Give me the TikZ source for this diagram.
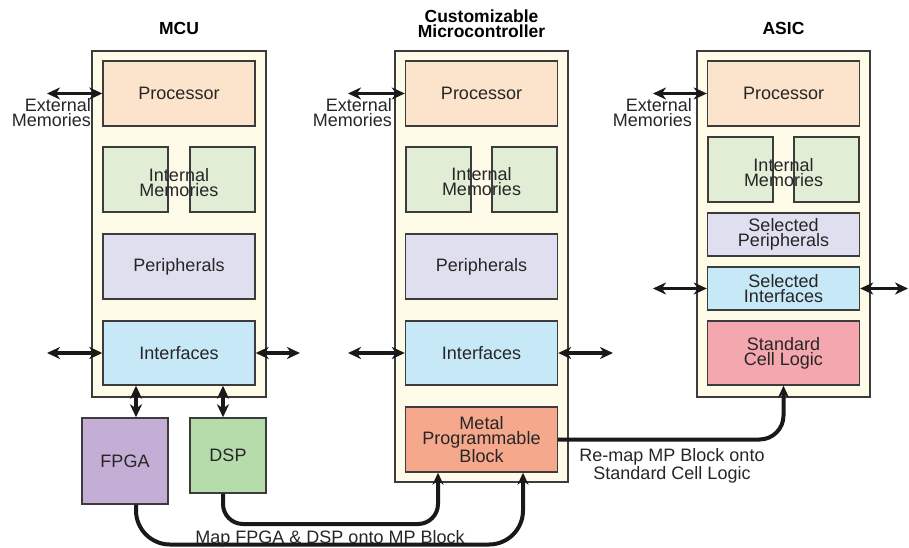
\documentclass[tikz,border=0pt]{standalone}
\usepackage{fontspec}
\setmainfont{Liberation Sans}
\usetikzlibrary{arrows.meta}

\definecolor{chipbg}{HTML}{FEFBE8}
\definecolor{edgegray}{HTML}{3C3C3C}
\definecolor{textgray}{HTML}{262626}
\definecolor{procfill}{HTML}{FCE3CB}
\definecolor{memfill}{HTML}{E2EDD6}
\definecolor{perifill}{HTML}{E0DFEF}
\definecolor{iffill}{HTML}{C6E8F7}
\definecolor{mpfill}{HTML}{F6A88D}
\definecolor{sclfill}{HTML}{F4A7AE}
\definecolor{fpgafill}{HTML}{C5AED5}
\definecolor{dspfill}{HTML}{B6DCAC}

\begin{document}
\begin{tikzpicture}[x=1pt, y=-1pt,
    font=\fontsize{18}{15}\selectfont, text=textgray,
    chip/.style={rectangle, draw=edgegray, line width=1.4pt, fill=chipbg, inner sep=0pt},
    block/.style={rectangle, draw=edgegray, line width=1.4pt, inner sep=0pt, align=center,
        minimum width=152pt, minimum height=65pt},
    memhalf/.style={block, fill=memfill, minimum width=65pt},
    lbl/.style={inner sep=0pt, align=center},
    title/.style={inner sep=0pt, align=center, anchor=north, text=black,
        font=\fontsize{17.5}{14.5}\selectfont\bfseries},
    biarrow/.style={{Stealth[length=13pt,width=12pt,inset=4pt]}-{Stealth[length=13pt,width=12pt,inset=4pt]},
        line width=3.5pt, draw=black!90},
    mapline/.style={-{Stealth[length=12pt,width=11pt,inset=4pt]}, line width=4pt, draw=black!90}]

    \useasboundingbox (0,0) rectangle (909,548);

    % the three chips
    \node (mcu) [chip, minimum width=174pt, minimum height=346pt] at (179,224) {};
    \node (cmc) [chip, minimum width=173pt, minimum height=431pt] at (481.5,266.5) {};
    \node (asic) [chip, minimum width=173pt, minimum height=346pt] at (783.5,224) {};

    \node (mcutitle) [title] at (179,22.3) {MCU};
    \node (cmctitle) [title] at (481.5,10) {Customizable\\Microcontroller};
    \node (asictitle) [title] at (783.5,21.7) {ASIC};

    % MCU
    \node (mcuproc) [block, fill=procfill] at (179,93.5) {Processor};
    \node (mcumem1) [memhalf] at (135.5,179.5) {};
    \node (mcumem2) [memhalf] at (222.5,179.5) {};
    \node (mcumemtxt) [lbl, anchor=north] at (179,168) {Internal\\Memories};
    \node (mcuperi) [block, fill=perifill] at (179,266.5) {Peripherals};
    \node (mcuif) [block, fill=iffill, minimum height=64pt] at (179,353) {Interfaces};
    \node (fpga) [block, fill=fpgafill, minimum width=86pt, minimum height=86pt] at (125,461) {FPGA};
    \node (dsp) [block, fill=dspfill, minimum width=76pt, minimum height=75pt] at (228,455.5) {DSP};

    % customizable microcontroller
    \node (cmcproc) [block, fill=procfill] at (481.5,93.5) {Processor};
    \node (cmcmem1) [memhalf] at (438.5,179.5) {};
    \node (cmcmem2) [memhalf] at (524.5,179.5) {};
    \node (cmcmemtxt) [lbl, anchor=north] at (481.5,167) {Internal\\Memories};
    \node (cmcperi) [block, fill=perifill] at (481.5,266.5) {Peripherals};
    \node (cmcif) [block, fill=iffill, minimum height=64pt] at (481.5,353) {Interfaces};
    \node (mp) [block, fill=mpfill] at (481.5,439.5) {Metal\\Programmable\\Block};

    % ASIC
    \node (asicproc) [block, fill=procfill] at (783.5,93.5) {Processor};
    \node (asicmem1) [memhalf] at (740.5,169.5) {};
    \node (asicmem2) [memhalf] at (826.5,169.5) {};
    \node (asicmemtxt) [lbl, anchor=north] at (783.5,158) {Internal\\Memories};
    \node (selperi) [block, fill=perifill, minimum height=43pt] at (783.5,234.5) {Selected\\Peripherals};
    \node (selif) [block, fill=iffill, minimum height=43pt] at (783.5,288.5) {Selected\\Interfaces};
    \node (scl) [block, fill=sclfill, minimum height=64pt] at (783.5,353) {Standard\\Cell Logic};

    % external memories
    \node (mcuext) [lbl, align=right, anchor=north east] at (91,98.7) {External\\Memories};
    \node (cmcext) [lbl, align=right, anchor=north east] at (392,98.7) {External\\Memories};
    \node (asicext) [lbl, align=right, anchor=north east] at (692,98.7) {External\\Memories};
    \coordinate (mcuextend) at (47,93.5);
    \coordinate (cmcextend) at (348,93.5);
    \coordinate (asicextend) at (653,93.5);
    \draw [biarrow] (mcuextend) -- (mcuproc.west);
    \draw [biarrow] (cmcextend) -- (cmcproc.west);
    \draw [biarrow] (asicextend) -- (asicproc.west);

    % interface ports
    \coordinate (mcuifl) at (47,353);
    \coordinate (mcuifr) at (300,353);
    \coordinate (cmcifl) at (348,353);
    \coordinate (cmcifr) at (613,353);
    \coordinate (selifl) at (653,288.5);
    \coordinate (selifr) at (908,288.5);
    \draw [biarrow] (mcuifl) -- (mcuif.west);
    \draw [biarrow] (mcuif.east) -- (mcuifr);
    \draw [biarrow] (cmcifl) -- (cmcif.west);
    \draw [biarrow] (cmcif.east) -- (cmcifr);
    \draw [biarrow] (selifl) -- (selif.west);
    \draw [biarrow] (selif.east) -- (selifr);

    \draw [biarrow] ([xshift=11pt]fpga.north) -- ([xshift=11pt]fpga.north |- mcuif.south);
    \draw [biarrow] ([xshift=-5pt]dsp.north) -- ([xshift=-5pt]dsp.north |- mcuif.south);

    % mapping paths
    \coordinate (mpin1) at ([xshift=-43.5pt]mp.south);
    \coordinate (mpin2) at ([xshift=41.5pt]mp.south);
    \coordinate (lanedsp) at (0,524);
    \coordinate (lanefpga) at (0,544.5);
    \draw [mapline, rounded corners=20pt] ([xshift=-5pt]dsp.south) |- (mpin1 |- lanedsp) -- (mpin1);
    \draw [mapline, rounded corners=34pt] ([xshift=11pt]fpga.south) |- (mpin2 |- lanefpga) -- (mpin2);
    \draw [mapline, rounded corners=24pt] (mp.east) -| (scl.south);

    \node (maplbl) [lbl, anchor=base] at (330,543) {Map FPGA \& DSP onto MP Block};
    \node (remaplbl) [lbl, anchor=north] at (672,448.6) {Re-map MP Block onto\\Standard Cell Logic};
\end{tikzpicture}
\end{document}
